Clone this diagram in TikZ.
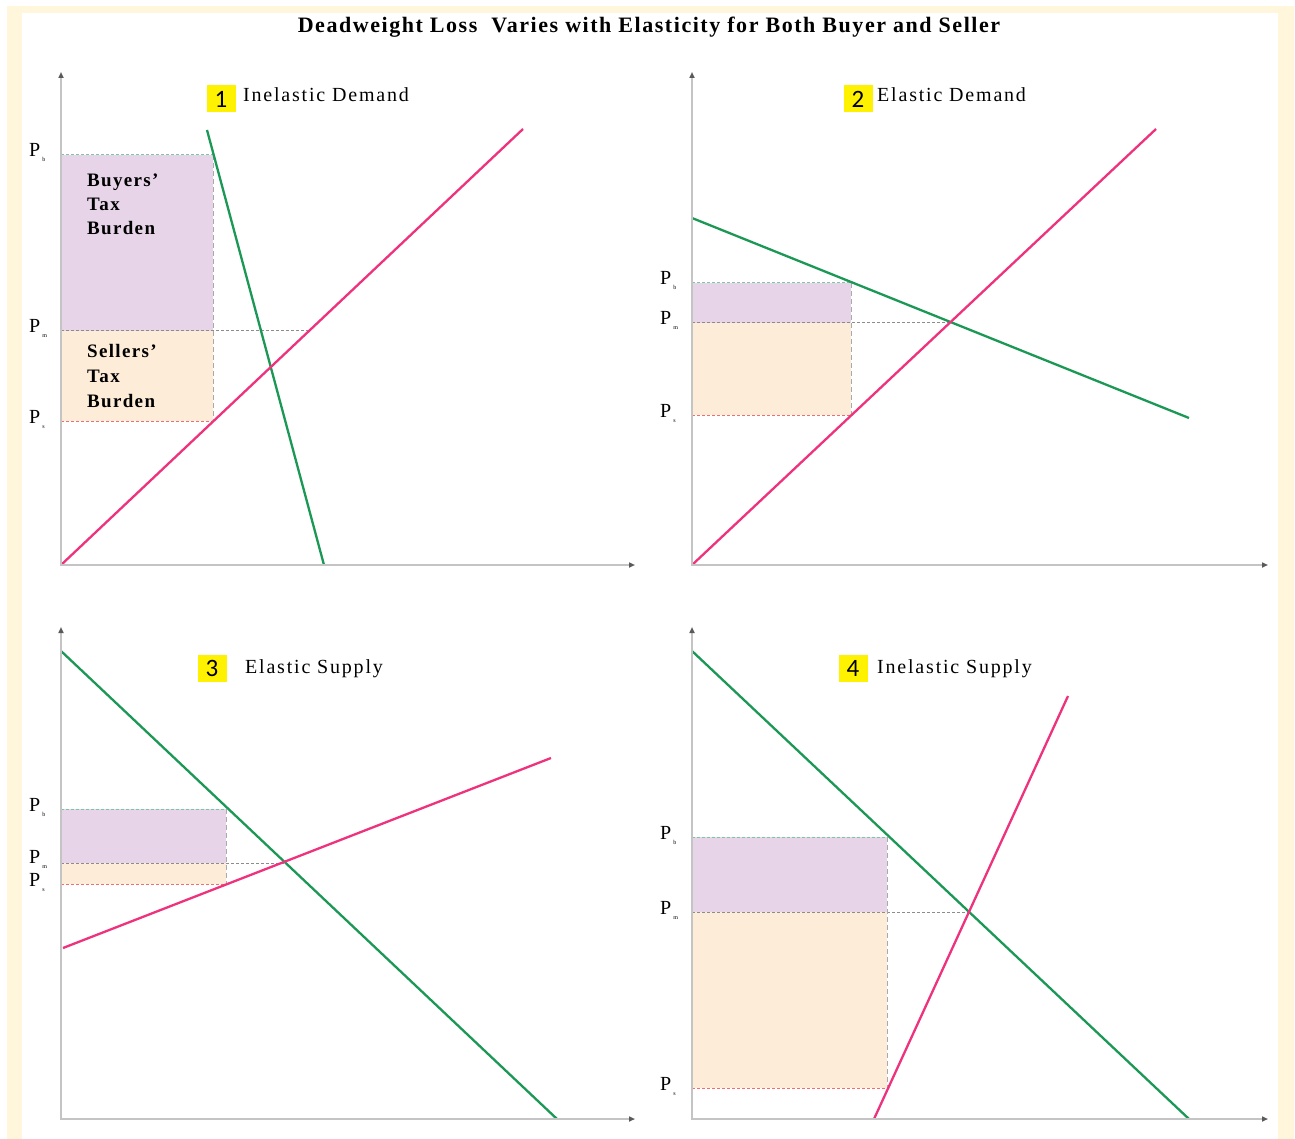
\documentclass[tikz,border=0pt]{standalone}
\usepackage{fontspec}
\setmainfont{Liberation Serif}
\newfontfamily\digitfont{Carlito}
\usetikzlibrary{arrows.meta}
\definecolor{cream}{RGB}{255,246,220}
\definecolor{purp}{RGB}{231,212,232}
\definecolor{orng}{RGB}{253,236,216}
\definecolor{dgreen}{RGB}{28,152,86}
\definecolor{dpink}{RGB}{238,50,125}
\definecolor{axisgray}{RGB}{196,196,196}
\definecolor{tipgray}{RGB}{90,90,90}
\definecolor{pbcol}{RGB}{120,200,160}
\definecolor{pscol}{RGB}{240,110,110}
\definecolor{pmcol}{RGB}{140,140,140}
\definecolor{vcol}{RGB}{170,170,170}
\newcommand{\plab}[1]{P\hspace{2pt}\raisebox{-5pt}{\fontsize{6}{6}\selectfont #1}}
\begin{document}
\begin{tikzpicture}[x=1pt,y=-1pt,
  axis/.style={draw=axisgray, line width=2pt, {Triangle[length=6pt,width=5pt,color=tipgray]}-{Triangle[length=6pt,width=5pt,color=tipgray]}},
  demand/.style={draw=dgreen, line width=2.3pt},
  supply/.style={draw=dpink, line width=2.3pt},
  pmline/.style={draw=pmcol, line width=1pt, dash pattern=on 3pt off 2pt},
  pbline/.style={draw=pbcol, line width=1pt, dash pattern=on 3pt off 2pt},
  psline/.style={draw=pscol, line width=1pt, dash pattern=on 3pt off 2pt},
  vline/.style={draw=vcol, line width=1pt, dash pattern=on 5pt off 3pt},
  plabel/.style={anchor=base west, inner sep=0pt, font=\fontsize{20}{20}\selectfont},
  numbox/.style={fill=yellow, minimum width=29pt, minimum height=27pt, inner sep=0pt, font=\digitfont\fontsize{25}{25}\selectfont},
  ptitle/.style={anchor=base west, inner sep=0pt, font=\addfontfeatures{LetterSpace=9}\fontsize{20}{20}\selectfont},
  burden/.style={anchor=base west, inner sep=0pt, font=\bfseries\addfontfeatures{LetterSpace=7}\fontsize{19}{19}\selectfont}
]
\useasboundingbox (0,0) rectangle (1295,1139);
% frame
\fill[cream] (7,6) rectangle (1294,1139);
\fill[white] (22,13) rectangle (1278,1139);
% title
\node[anchor=base, inner sep=0pt, font=\bfseries\addfontfeatures{LetterSpace=7}\fontsize{22}{22}\selectfont] (title) at (649,33) {Deadweight Loss\ \ Varies with Elasticity for Both Buyer and Seller};

% ===== Panel 1 =====
\fill[purp] (61,155) rectangle (213,331);
\fill[orng] (61,331) rectangle (213,421);
\coordinate (a1pb) at (61,155); \coordinate (b1pb) at (213,155);
\coordinate (a1pm) at (61,331); \coordinate (b1pm) at (309,331);
\coordinate (a1ps) at (61,421); \coordinate (b1ps) at (213,421);
\draw[pbline] (a1pb) -- (b1pb);
\draw[pmline] (a1pm) -- (b1pm);
\draw[psline] (a1ps) -- (b1ps);
\draw[vline] (b1pb) -- (b1ps);
\coordinate (d1s) at (207,130); \coordinate (d1e) at (324,565);
\coordinate (s1s) at (61,565); \coordinate (s1e) at (523,129);
\draw[demand] (d1s) -- (d1e);
\draw[supply] (s1s) -- (s1e);
\coordinate (y1) at (61,72); \coordinate (o1) at (61,565); \coordinate (x1) at (635,565);
\draw[axis] (y1) -- (o1) -- (x1);
\node[plabel] (p1b) at (29,157) {\plab{b}};
\node[plabel] (p1m) at (29,333) {\plab{m}};
\node[plabel] (p1s) at (29,423) {\plab{s}};
\node[burden] (bt1) at (87,187) {Buyers’};
\node[burden] (bt2) at (87,211) {Tax};
\node[burden] (bt3) at (87,235) {Burden};
\node[burden] (st1) at (87,357) {Sellers’};
\node[burden] (st2) at (87,382) {Tax};
\node[burden] (st3) at (87,407) {Burden};
\node[numbox] (n1) at (221,99) {1};
\node[ptitle] (t1) at (243,102) {Inelastic Demand};

% ===== Panel 2 =====
\fill[purp] (692,283) rectangle (851,323);
\fill[orng] (692,323) rectangle (851,415);
\coordinate (a2pb) at (692,283); \coordinate (b2pb) at (851,283);
\coordinate (a2pm) at (692,323); \coordinate (b2pm) at (950,323);
\coordinate (a2ps) at (692,415); \coordinate (b2ps) at (851,415);
\draw[pbline] (a2pb) -- (b2pb);
\draw[pmline] (a2pm) -- (b2pm);
\draw[psline] (a2ps) -- (b2ps);
\draw[vline] (b2pb) -- (b2ps);
\coordinate (d2s) at (692,218); \coordinate (d2e) at (1189,418);
\coordinate (s2s) at (692,565); \coordinate (s2e) at (1156,129);
\draw[demand] (d2s) -- (d2e);
\draw[supply] (s2s) -- (s2e);
\coordinate (y2) at (692,72); \coordinate (o2) at (692,565); \coordinate (x2) at (1268,565);
\draw[axis] (y2) -- (o2) -- (x2);
\node[plabel] (p2b) at (660,285) {\plab{b}};
\node[plabel] (p2m) at (660,325) {\plab{m}};
\node[plabel] (p2s) at (660,417) {\plab{s}};
\node[numbox] (n2) at (858,99) {2};
\node[ptitle] (t2) at (877,102) {Elastic Demand};

% ===== Panel 3 =====
\fill[purp] (61,809) rectangle (226,863);
\fill[orng] (61,863) rectangle (226,884);
\coordinate (a3pb) at (61,809); \coordinate (b3pb) at (226,809);
\coordinate (a3pm) at (61,863); \coordinate (b3pm) at (284,863);
\coordinate (a3ps) at (61,884); \coordinate (b3ps) at (226,884);
\draw[pbline] (a3pb) -- (b3pb);
\draw[pmline] (a3pm) -- (b3pm);
\draw[psline] (a3ps) -- (b3ps);
\draw[vline] (b3pb) -- (b3ps);
\coordinate (d3s) at (61,651); \coordinate (d3e) at (557,1119);
\coordinate (s3s) at (63,948); \coordinate (s3e) at (551,758);
\draw[demand] (d3s) -- (d3e);
\draw[supply] (s3s) -- (s3e);
\coordinate (y3) at (61,627); \coordinate (o3) at (61,1119); \coordinate (x3) at (635,1119);
\draw[axis] (y3) -- (o3) -- (x3);
\node[plabel] (p3b) at (29,811) {\plab{b}};
\node[plabel] (p3m) at (29,863) {\plab{m}};
\node[plabel] (p3s) at (29,886) {\plab{s}};
\node[numbox] (n3) at (212,668) {3};
\node[ptitle] (t3) at (245,673) {Elastic Supply};

% ===== Panel 4 =====
\fill[purp] (692,837) rectangle (887,912);
\fill[orng] (692,912) rectangle (887,1088);
\coordinate (a4pb) at (692,837); \coordinate (b4pb) at (887,837);
\coordinate (a4pm) at (692,912); \coordinate (b4pm) at (969,912);
\coordinate (a4ps) at (692,1088); \coordinate (b4ps) at (887,1088);
\draw[pbline] (a4pb) -- (b4pb);
\draw[pmline] (a4pm) -- (b4pm);
\draw[psline] (a4ps) -- (b4ps);
\draw[vline] (b4pb) -- (b4ps);
\coordinate (d4s) at (692,651); \coordinate (d4e) at (1189,1119);
\coordinate (s4s) at (874,1119); \coordinate (s4e) at (1068,696);
\draw[demand] (d4s) -- (d4e);
\draw[supply] (s4s) -- (s4e);
\coordinate (y4) at (692,627); \coordinate (o4) at (692,1119); \coordinate (x4) at (1268,1119);
\draw[axis] (y4) -- (o4) -- (x4);
\node[plabel] (p4b) at (660,839) {\plab{b}};
\node[plabel] (p4m) at (660,914) {\plab{m}};
\node[plabel] (p4s) at (660,1090) {\plab{s}};
\node[numbox] (n4) at (853,668) {4};
\node[ptitle] (t4) at (877,673) {Inelastic Supply};
\end{tikzpicture}
\end{document}
